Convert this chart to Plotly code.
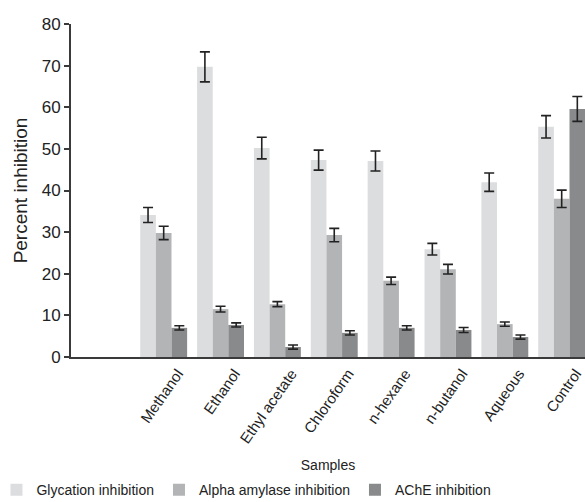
import plotly.graph_objects as go

categories = [" ", "Methanol", "Ethanol", "Ethyl acetate", "Chloroform",
              "n-hexane", "n-butanol", "Aqueous", "Control"]
glycation = [None, 34.1, 69.7, 50.2, 47.3, 47.1, 25.9, 42.0, 55.3]
glycation_err = [None, 1.8, 3.6, 2.6, 2.4, 2.4, 1.4, 2.2, 2.7]
alpha = [None, 29.8, 11.5, 12.7, 29.3, 18.3, 21.1, 7.9, 38.0]
alpha_err = [None, 1.6, 0.7, 0.6, 1.6, 0.9, 1.15, 0.5, 2.1]
ache = [None, 7.0, 7.7, 2.4, 5.8, 7.0, 6.5, 4.8, 59.6]
ache_err = [None, 0.5, 0.5, 0.5, 0.5, 0.5, 0.6, 0.5, 3.0]
y_ticks = [0, 10, 20, 30, 40, 50, 60, 70, 80]

FONT = "Liberation Sans, Arial, Helvetica, sans-serif"

series = [
    ("Glycation inhibition", glycation, glycation_err, "#dcdddf"),
    ("Alpha amylase inhibition", alpha, alpha_err, "#b3b4b6"),
    ("AChE inhibition", ache, ache_err, "#898a8c"),
]

fig = go.Figure()
for name, vals, errs, col in series:
    fig.add_trace(go.Bar(
        name=name, x=categories, y=vals,
        marker=dict(color=col, line=dict(width=0)),
        error_y=dict(type="data", array=errs, visible=True,
                     color="#222222", thickness=1.6, width=5),
    ))

fig.update_layout(
    width=585, height=502,
    margin=dict(l=71, r=0, t=24, b=145, autoexpand=False),
    paper_bgcolor="white", plot_bgcolor="white",
    barmode="group", bargap=0.175, bargroupgap=0,
    font=dict(family=FONT, size=15, color="#222222"),
    showlegend=True,
    legend=dict(orientation="h", x=-0.145, xanchor="left",
                y=-0.40, yanchor="middle",
                font=dict(family=FONT, size=14, color="#222222"),
                itemwidth=30, tracegroupgap=0, traceorder="normal"),
)
fig.update_xaxes(
    type="category", range=[-0.63, 8.41],
    showline=True, linecolor="#3a3a3a", linewidth=2,
    ticks="", showgrid=False, zeroline=False,
    tickangle=-55, tickfont=dict(family=FONT, size=15, color="#222222"),
    ticklabelshift=14, automargin=False,
    title=dict(text="Samples", font=dict(family=FONT, size=14, color="#222222"), standoff=15),
)
fig.update_yaxes(
    range=[0, 80], tickvals=y_ticks,
    showline=True, linecolor="#3a3a3a", linewidth=2,
    ticks="outside", ticklen=5, tickwidth=1.5, tickcolor="#3a3a3a",
    showgrid=False, zeroline=False, automargin=False,
    tickfont=dict(family=FONT, size=17, color="#222222"),
    title=dict(text="Percent inhibition", font=dict(family=FONT, size=19, color="#222222"), standoff=9),
)

fig.write_html("out.html")
